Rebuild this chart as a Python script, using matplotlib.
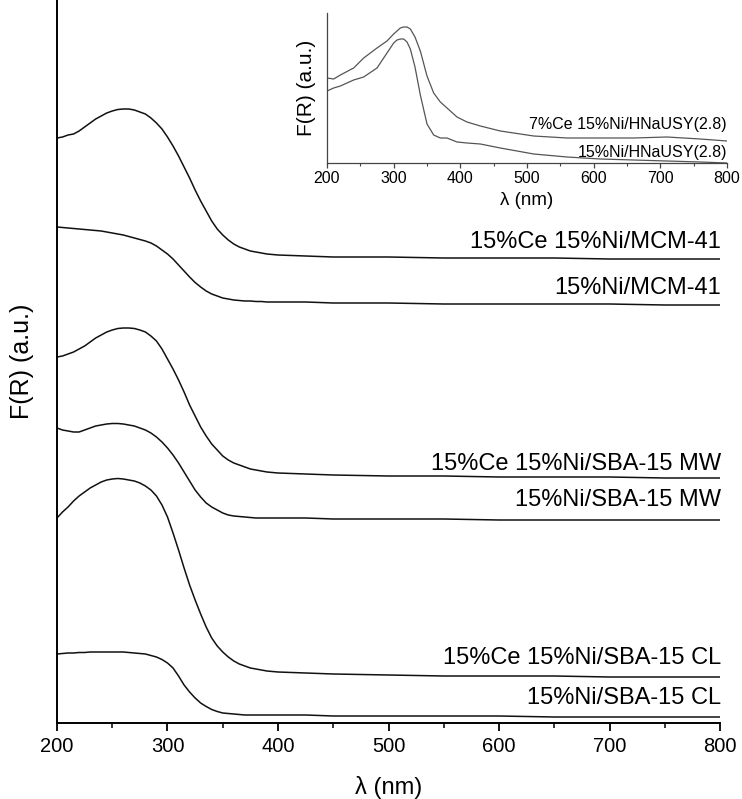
import matplotlib
matplotlib.use("Agg")
import matplotlib.pyplot as plt
from matplotlib.ticker import MultipleLocator

plt.rcParams['font.family'] = ['Liberation Sans', 'DejaVu Sans']

# wavelength grid (nm) for the stacked DRS spectra
wl = [200, 205, 210, 215, 220, 225, 230, 235, 240, 245, 250, 255, 260, 265, 270, 275, 280,
      285, 290, 295, 300, 305, 310, 315, 320, 325, 330, 335, 340, 345, 350, 355, 360, 365,
      370, 375, 380, 385, 390, 395, 400, 425, 450, 500, 550, 600, 650, 700, 750, 800]

# Kubelka-Munk F(R), already offset for stacking
ce_mcm = [5.85, 5.86, 5.88, 5.89, 5.92, 5.96, 6.00, 6.04, 6.07, 6.10, 6.12, 6.135, 6.14, 6.14,
          6.13, 6.11, 6.09, 6.05, 6.00, 5.94, 5.86, 5.77, 5.67, 5.56, 5.45, 5.33, 5.22, 5.12,
          5.02, 4.94, 4.88, 4.83, 4.79, 4.76, 4.74, 4.72, 4.71, 4.70, 4.69, 4.685, 4.68,
          4.67, 4.66, 4.66, 4.65, 4.65, 4.65, 4.64, 4.64, 4.64]
ni_mcm = [4.96, 4.955, 4.95, 4.945, 4.94, 4.935, 4.93, 4.925, 4.92, 4.91, 4.90, 4.89, 4.88,
          4.865, 4.85, 4.835, 4.82, 4.80, 4.77, 4.73, 4.69, 4.64, 4.58, 4.52, 4.46, 4.405, 4.36,
          4.32, 4.29, 4.27, 4.25, 4.24, 4.23, 4.225, 4.22, 4.22, 4.215, 4.215, 4.21, 4.21, 4.21,
          4.21, 4.20, 4.20, 4.19, 4.19, 4.19, 4.19, 4.18, 4.18]
ce_sba_mw = [3.66, 3.67, 3.69, 3.71, 3.74, 3.77, 3.81, 3.85, 3.88, 3.91, 3.93, 3.945, 3.95,
             3.95, 3.945, 3.93, 3.91, 3.87, 3.82, 3.74, 3.64, 3.54, 3.43, 3.31, 3.18, 3.07,
             2.96, 2.87, 2.79, 2.73, 2.67, 2.63, 2.60, 2.58, 2.56, 2.54, 2.53, 2.52, 2.51,
             2.505, 2.50, 2.49, 2.48, 2.47, 2.47, 2.46, 2.46, 2.46, 2.45, 2.45]
ni_sba_mw = [2.95, 2.93, 2.92, 2.91, 2.91, 2.93, 2.95, 2.97, 2.98, 2.99, 2.995, 2.995, 2.99,
             2.98, 2.97, 2.95, 2.93, 2.90, 2.86, 2.81, 2.75, 2.68, 2.60, 2.51, 2.42, 2.33,
             2.26, 2.20, 2.16, 2.13, 2.10, 2.08, 2.07, 2.065, 2.06, 2.055, 2.05, 2.05, 2.05,
             2.05, 2.05, 2.05, 2.04, 2.04, 2.04, 2.03, 2.03, 2.03, 2.03, 2.03]
ce_sba_cl = [2.05, 2.11, 2.16, 2.22, 2.27, 2.31, 2.35, 2.38, 2.41, 2.43, 2.44, 2.445, 2.44,
             2.43, 2.42, 2.40, 2.37, 2.33, 2.27, 2.18, 2.06, 1.90, 1.73, 1.55, 1.38, 1.23,
             1.09, 0.96, 0.85, 0.77, 0.71, 0.66, 0.62, 0.59, 0.57, 0.55, 0.54, 0.53, 0.52,
             0.515, 0.51, 0.50, 0.49, 0.48, 0.47, 0.47, 0.47, 0.46, 0.46, 0.46]
ni_sba_cl = [0.69, 0.695, 0.70, 0.70, 0.705, 0.705, 0.71, 0.71, 0.71, 0.71, 0.71, 0.71, 0.71,
             0.705, 0.70, 0.695, 0.69, 0.675, 0.66, 0.635, 0.60, 0.55, 0.47, 0.38, 0.31, 0.25,
             0.20, 0.165, 0.135, 0.115, 0.10, 0.095, 0.09, 0.085, 0.08, 0.08, 0.08, 0.08, 0.08,
             0.08, 0.08, 0.08, 0.07, 0.07, 0.07, 0.07, 0.06, 0.06, 0.06, 0.06]

main_series = [ce_mcm, ni_mcm, ce_sba_mw, ni_sba_mw, ce_sba_cl, ni_sba_cl]
main_names = ['15%Ce 15%Ni/MCM-41', '15%Ni/MCM-41',
              '15%Ce 15%Ni/SBA-15 MW', '15%Ni/SBA-15 MW',
              '15%Ce 15%Ni/SBA-15 CL', '15%Ni/SBA-15 CL']
main_label_y = [4.81, 4.35, 2.59, 2.23, 0.65, 0.25]

# inset: HNaUSY zeolite supports
wl_usy = [200, 210, 220, 240, 255, 275, 290, 300, 305, 310, 315, 320, 325, 332, 340, 350,
          360, 370, 380, 395, 410, 430, 460, 510, 560, 610, 660, 710, 760, 800]
ce_usy = [0.85, 0.84, 0.88, 0.95, 1.05, 1.15, 1.22, 1.29, 1.32, 1.35, 1.36, 1.36, 1.34, 1.26,
          1.12, 0.87, 0.70, 0.61, 0.55, 0.46, 0.41, 0.37, 0.32, 0.27, 0.25, 0.25, 0.25, 0.26,
          0.24, 0.22]
ni_usy = [0.72, 0.75, 0.77, 0.83, 0.86, 0.95, 1.10, 1.20, 1.23, 1.24, 1.24, 1.21, 1.14, 0.96,
          0.68, 0.39, 0.28, 0.25, 0.25, 0.21, 0.20, 0.19, 0.15, 0.09, 0.06, 0.04, 0.03, 0.02,
          0.01, 0.00]
usy_names = ['7%Ce 15%Ni/HNaUSY(2.8)', '15%Ni/HNaUSY(2.8)']
usy_label_y = [0.38, 0.10]

fig = plt.figure(figsize=(7.42, 7.99), dpi=100)

# main panel
ax = fig.add_axes([57/742, 76/799, 663/742, 723/799])
for ys in main_series:
    ax.plot(wl, ys, color='#111111', lw=1.1)
for name, y in zip(main_names, main_label_y):
    ax.text(801, y, name, ha='right', va='center', fontsize=17)

ax.set_xlim(200, 800)
ax.set_ylim(0, 7.23)
ax.xaxis.set_major_locator(MultipleLocator(100))
ax.xaxis.set_minor_locator(MultipleLocator(50))
ax.set_yticks([])
for s in ['top', 'right']:
    ax.spines[s].set_visible(False)
for s in ['left', 'bottom']:
    ax.spines[s].set_linewidth(1.4)
ax.tick_params(axis='x', which='major', length=6, width=1.3, labelsize=14.5, pad=4)
ax.tick_params(axis='x', which='minor', length=3.5, width=1.1)
ax.set_xlabel('λ (nm)', fontsize=17)
ax.set_ylabel('F(R) (a.u.)', fontsize=18)
ax.xaxis.set_label_coords(0.5, -0.089)
ax.xaxis.label.set_va('center')
ax.yaxis.set_label_coords(-0.053, 0.5)
ax.yaxis.label.set_va('center')

# inset panel
axi = fig.add_axes([327/742, 636/799, 400/742, 150/799])
axi.plot(wl_usy, ce_usy, color='#555555', lw=0.9)
axi.plot(wl_usy, ni_usy, color='#555555', lw=0.9)
for name, y in zip(usy_names, usy_label_y):
    axi.text(800, y, name, ha='right', va='center', fontsize=11.5)

axi.set_xlim(200, 800)
axi.set_ylim(0, 1.5)
axi.xaxis.set_major_locator(MultipleLocator(100))
axi.xaxis.set_minor_locator(MultipleLocator(50))
axi.set_yticks([])
axi.patch.set_alpha(0)
for s in ['top', 'right']:
    axi.spines[s].set_visible(False)
for s in ['left', 'bottom']:
    axi.spines[s].set_linewidth(0.9)
    axi.spines[s].set_color('#444444')
axi.tick_params(axis='x', which='major', length=3.5, width=0.9, color='#444444',
                labelsize=11.5, pad=2)
axi.tick_params(axis='x', which='minor', length=2, width=0.8, color='#444444')
axi.set_xlabel('λ (nm)', fontsize=13.5)
axi.set_ylabel('F(R) (a.u.)', fontsize=15)
axi.xaxis.set_label_coords(0.5, -0.25)
axi.xaxis.label.set_va('center')
axi.yaxis.set_label_coords(-0.05, 0.5)
axi.yaxis.label.set_va('center')

fig.savefig('out.png', dpi=100)
